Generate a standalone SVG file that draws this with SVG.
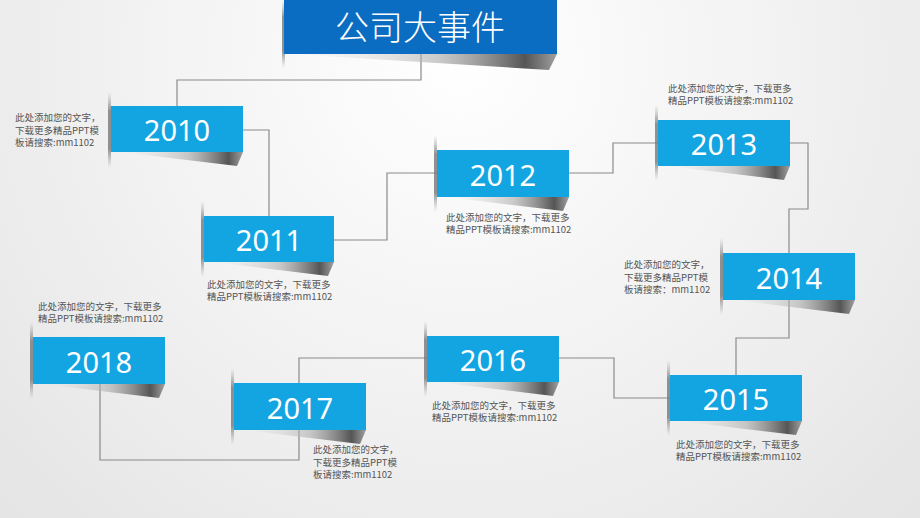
<svg xmlns="http://www.w3.org/2000/svg" width="920" height="518" viewBox="0 0 920 518">
<defs>
<radialGradient id="bg" cx="460" cy="60" r="700" gradientUnits="userSpaceOnUse">
<stop offset="0" stop-color="#ffffff"/>
<stop offset="0.6" stop-color="#eeeeee"/>
<stop offset="1" stop-color="#e2e2e2"/>
</radialGradient>
<linearGradient id="wedge" x1="0" y1="0" x2="1" y2="0">
<stop offset="0" stop-color="#dddddd" stop-opacity="0"/>
<stop offset="0.55" stop-color="#aaaaaa" stop-opacity="0.6"/>
<stop offset="0.88" stop-color="#555555"/>
<stop offset="1" stop-color="#a0a0a0"/>
</linearGradient>
<linearGradient id="side" x1="0" y1="0" x2="0" y2="1">
<stop offset="0" stop-color="#999999" stop-opacity="0"/>
<stop offset="0.25" stop-color="#777777" stop-opacity="0.8"/>
<stop offset="0.75" stop-color="#777777" stop-opacity="0.8"/>
<stop offset="1" stop-color="#999999" stop-opacity="0"/>
</linearGradient>
</defs>
<style>
.box{fill:#13a5e2}
.yr{font-family:"Noto Sans","Open Sans",sans-serif;font-size:29px;fill:#ffffff;text-anchor:middle}
.note{font-family:"Noto Sans CJK SC","Noto Sans",sans-serif;font-size:9.5px;fill:#555555}
.conn{fill:none;stroke:#8a8a8a;stroke-width:1.2}
.wedge{fill:url(#wedge)}
.side{fill:url(#side)}
</style>
<rect width="920" height="518" fill="url(#bg)"/>
<g id="connectors">
<path class="conn" d="M421 54 V80 H177 V106"/>
<path class="conn" d="M243 130 H269 V216"/>
<path class="conn" d="M334 240 H387 V173 H437"/>
<path class="conn" d="M569 173 H613 V143 H658"/>
<path class="conn" d="M790 143 H808 V209 H789 V253"/>
<path class="conn" d="M789 300 V338 H736 V375"/>
<path class="conn" d="M670 398 H614 V358 H559"/>
<path class="conn" d="M427 358 H299 V383"/>
<path class="conn" d="M299 430 V460 H100 V384"/>
</g>
<g id="title">
<rect class="side" x="282" y="0" width="3" height="68"/>
<polygon class="wedge" points="290,54 557,54 549,70"/>
<rect x="284" y="0" width="273" height="54" fill="#0b6dc2"/>
<text x="420" y="40" font-family="Noto Sans CJK SC,sans-serif" font-size="34" font-weight="300" fill="#ffffff" text-anchor="middle">公司大事件</text>
</g>
<g id="y2010">
<rect class="side" x="108" y="92" width="3" height="76"/>
<polygon class="wedge" points="120,152 243,152 237,166"/>
<rect class="box" x="111" y="106" width="132" height="46"/>
<text class="yr" x="177" y="141">2010</text>
<text class="note" x="15" y="121">此处添加您的文字，</text>
<text class="note" x="15" y="133.5">下载更多精品PPT模</text>
<text class="note" x="15" y="146">板请搜索:mm1102</text>
</g>
<g id="y2011">
<rect class="side" x="201" y="201" width="3" height="76"/>
<polygon class="wedge" points="214,262 334,262 328,276"/>
<rect class="box" x="204" y="216" width="130" height="46"/>
<text class="yr" x="269" y="251">2011</text>
<text class="note" x="207" y="287.5">此处添加您的文字，下载更多</text>
<text class="note" x="207" y="300">精品PPT模板请搜索:mm1102</text>
</g>
<g id="y2012">
<rect class="side" x="434" y="135" width="3" height="77"/>
<polygon class="wedge" points="446,197 569,197 563,211"/>
<rect class="box" x="437" y="150" width="132" height="47"/>
<text class="yr" x="503" y="186">2012</text>
<text class="note" x="446" y="220.5">此处添加您的文字，下载更多</text>
<text class="note" x="446" y="233">精品PPT模板请搜索:mm1102</text>
</g>
<g id="y2013">
<rect class="side" x="655" y="105" width="3" height="76"/>
<polygon class="wedge" points="667,166 790,166 784,180"/>
<rect class="box" x="658" y="120" width="132" height="46"/>
<text class="yr" x="724" y="155">2013</text>
<text class="note" x="668" y="91.5">此处添加您的文字，下载更多</text>
<text class="note" x="668" y="104">精品PPT模板请搜索:mm1102</text>
</g>
<g id="y2014">
<rect class="side" x="720" y="238" width="3" height="77"/>
<polygon class="wedge" points="732,300 855,300 849,314"/>
<rect class="box" x="723" y="253" width="132" height="47"/>
<text class="yr" x="789" y="289">2014</text>
<text class="note" x="624" y="268">此处添加您的文字，</text>
<text class="note" x="624" y="280.5">下载更多精品PPT模</text>
<text class="note" x="624" y="293">板请搜索：mm1102</text>
</g>
<g id="y2015">
<rect class="side" x="667" y="360" width="3" height="76"/>
<polygon class="wedge" points="679,421 802,421 796,435"/>
<rect class="box" x="670" y="375" width="132" height="46"/>
<text class="yr" x="736" y="410">2015</text>
<text class="note" x="676" y="447.5">此处添加您的文字，下载更多</text>
<text class="note" x="676" y="460">精品PPT模板请搜索:mm1102</text>
</g>
<g id="y2016">
<rect class="side" x="424" y="321" width="3" height="76"/>
<polygon class="wedge" points="436,382 559,382 553,396"/>
<rect class="box" x="427" y="336" width="132" height="46"/>
<text class="yr" x="493" y="371">2016</text>
<text class="note" x="432" y="408.5">此处添加您的文字，下载更多</text>
<text class="note" x="432" y="421">精品PPT模板请搜索:mm1102</text>
</g>
<g id="y2017">
<rect class="side" x="231" y="368" width="3" height="77"/>
<polygon class="wedge" points="243,430 366,430 360,444"/>
<rect class="box" x="234" y="383" width="132" height="47"/>
<text class="yr" x="300" y="419">2017</text>
<text class="note" x="313" y="453">此处添加您的文字，</text>
<text class="note" x="313" y="465.5">下载更多精品PPT模</text>
<text class="note" x="313" y="478">板请搜索:mm1102</text>
</g>
<g id="y2018">
<rect class="side" x="30" y="322" width="3" height="77"/>
<polygon class="wedge" points="42,384 165,384 159,398"/>
<rect class="box" x="33" y="337" width="132" height="47"/>
<text class="yr" x="99" y="373">2018</text>
<text class="note" x="38" y="309.5">此处添加您的文字，下载更多</text>
<text class="note" x="38" y="322">精品PPT模板请搜索:mm1102</text>
</g>
</svg>
